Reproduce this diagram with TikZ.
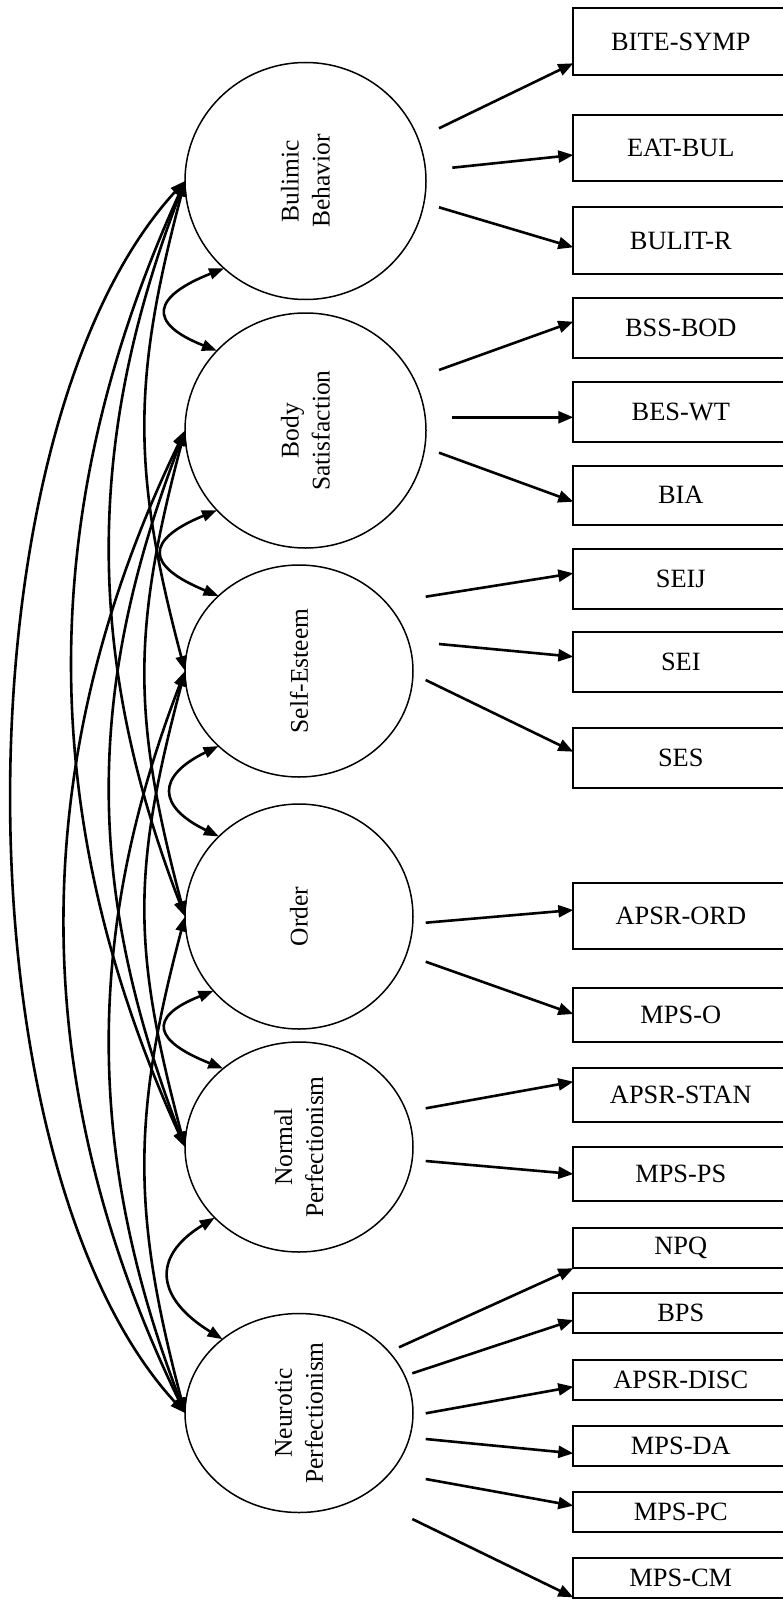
\documentclass[tikz,border=0pt]{standalone}
\usepackage{fontspec}
\setmainfont{Liberation Serif}
\usetikzlibrary{arrows.meta,shapes.geometric}
\begin{document}
\begin{tikzpicture}[x=1pt,y=-1pt,
  latent/.style={ellipse, draw, line width=1.5pt, inner sep=0pt, outer sep=0pt},
  lbl/.style={rotate=90, align=center, font=\fontsize{25.5}{31}\selectfont, inner sep=0pt},
  obs/.style={draw, line width=1.8pt, minimum width=215pt, anchor=west, inner sep=0pt, outer sep=0pt, font=\fontsize{26.4}{30}\selectfont},
  load/.style={line width=2.6pt, -{Triangle[length=15pt,width=12pt]}},
  cov/.style={line width=2.6pt, {Triangle[length=15pt,width=11pt]}-{Triangle[length=15pt,width=11pt]}},
]
\useasboundingbox (0,0) rectangle (783,1600);
\clip (0,0) rectangle (783,1600);

% latent factors
\node[latent, minimum width=241pt, minimum height=237pt] (bul) at (305.5,181) {};
\node[latent, minimum width=241pt, minimum height=235pt] (bod) at (305.5,430.5) {};
\node[latent, minimum width=228pt, minimum height=212pt] (se) at (299,671) {};
\node[latent, minimum width=228pt, minimum height=225pt] (ord) at (299,916.5) {};
\node[latent, minimum width=228pt, minimum height=210pt] (nor) at (299,1147) {};
\node[latent, minimum width=228pt, minimum height=199pt] (neu) at (299,1413) {};

\node[lbl] (tbul) at (bul) {Bulimic\\Behavior};
\node[lbl] (tbod) at (bod) {Body\\Satisfaction};
\node[lbl] (tse) at (se) {Self-Esteem};
\node[lbl] (tord) at (ord) {Order};
\node[lbl] (tnor) at (nor) {Normal\\Perfectionism};
\node[lbl] (tneu) at (neu) {Neurotic\\Perfectionism};

% indicators
\node[obs, minimum height=66.7pt] (b1) at (573.3,41.7) {BITE-SYMP};
\node[obs, minimum height=65.7pt] (b2) at (573.3,147.8) {EAT-BUL};
\node[obs, minimum height=66.7pt] (b3) at (573.3,240.7) {BULIT-R};
\node[obs, minimum height=59.4pt] (b4) at (573.3,328) {BSS-BOD};
\node[obs, minimum height=60pt] (b5) at (573.3,411.7) {BES-WT};
\node[obs, minimum height=59.3pt] (b6) at (573.3,495.3) {BIA};
\node[obs, minimum height=59.7pt] (b7) at (573.3,579.2) {SEIJ};
\node[obs, minimum height=60pt] (b8) at (573.3,662.3) {SEI};
\node[obs, minimum height=59.4pt] (b9) at (573.3,758) {SES};
\node[obs, minimum height=66.6pt] (b10) at (573.3,916) {APSR-ORD};
\node[obs, minimum height=54pt] (b11) at (573.3,1015.3) {MPS-O};
\node[obs, minimum height=53.4pt] (b12) at (573.3,1095) {APSR-STAN};
\node[obs, minimum height=53.4pt] (b13) at (573.3,1174) {MPS-PS};
\node[obs, minimum height=40pt] (b14) at (573.3,1247.7) {NPQ};
\node[obs, minimum height=40pt] (b15) at (573.3,1313.3) {BPS};
\node[obs, minimum height=40pt] (b16) at (573.3,1380) {APSR-DISC};
\node[obs, minimum height=39.7pt] (b17) at (573.3,1445.8) {MPS-DA};
\node[obs, minimum height=40pt] (b18) at (573.3,1512.3) {MPS-PC};
\node[obs, minimum height=40pt] (b19) at (573.3,1578.3) {MPS-CM};

% loading start points
\coordinate (s1) at (439,128.3);
\coordinate (s2) at (452.3,167.7);
\coordinate (s3) at (439,207.3);
\coordinate (s4) at (439,370);
\coordinate (s5) at (452.3,417.3);
\coordinate (s6) at (439,452.7);
\coordinate (s7) at (425.7,596.7);
\coordinate (s8) at (439,644);
\coordinate (s9) at (425.7,680);
\coordinate (s10) at (425.7,922.7);
\coordinate (s11) at (425.7,961.7);
\coordinate (s12) at (425.7,1108.3);
\coordinate (s13) at (425.7,1161);
\coordinate (s14) at (399,1347.3);
\coordinate (s15) at (412.3,1373.3);
\coordinate (s16) at (425.7,1413.3);
\coordinate (s17) at (425.7,1439);
\coordinate (s18) at (425.7,1479);
\coordinate (s19) at (412.3,1519);

\draw[load] (s1) -- ([yshift=-21.6pt]b1.west);
\draw[load] (s2) -- ([yshift=-7.2pt]b2.west);
\draw[load] (s3) -- ([yshift=-6.6pt]b3.west);
\draw[load] (s4) -- ([yshift=6.3pt]b4.west);
\draw[load] (s5) -- ([yshift=-5.6pt]b5.west);
\draw[load] (s6) -- ([yshift=-6.4pt]b6.west);
\draw[load] (s7) -- ([yshift=5.9pt]b7.west);
\draw[load] (s8) -- ([yshift=5.6pt]b8.west);
\draw[load] (s9) -- ([yshift=6.3pt]b9.west);
\draw[load] (s10) -- ([yshift=6pt]b10.west);
\draw[load] (s11) -- ([yshift=1.3pt]b11.west);
\draw[load] (s12) -- ([yshift=13.3pt]b12.west);
\draw[load] (s13) -- (b13.west);
\draw[load] (s14) -- ([yshift=-20.6pt]b14.west);
\draw[load] (s15) -- ([yshift=-6.7pt]b15.west);
\draw[load] (s16) -- ([yshift=-6.7pt]b16.west);
\draw[load] (s17) -- ([yshift=-7.5pt]b17.west);
\draw[load] (s18) -- ([yshift=6.6pt]b18.west);
\draw[load] (s19) -- ([yshift=-19pt]b19.west);

% adjacent covariances
\draw[cov] (bul.227) .. controls +(-71,28) and +(-71,-28) .. (bod.138);
\draw[cov] (bod.222) .. controls +(-73,30) and +(-73,-30) .. (se.137.5);
\draw[cov] (se.223) .. controls +(-62,30) and +(-62,-30) .. (ord.135);
\draw[cov] (ord.221.6) .. controls +(-68,27) and +(-68,-27) .. (nor.134.6);
\draw[cov] (nor.220) .. controls +(-65,40) and +(-65,-40) .. (neu.136);

% long covariances
\draw[cov] (bul.west) .. controls +(-53,200) and +(-53,-200) .. (se.west);
\draw[cov] (bul.west) .. controls +(-100,260) and +(-100,-260) .. (ord.west);
\draw[cov] (bul.west) .. controls +(-150,330) and +(-150,-330) .. (nor.west);
\draw[cov] (bul.west) .. controls +(-230,250) and +(-230,-250) .. (neu.west);
\draw[cov] (bod.west) .. controls +(-53,200) and +(-53,-200) .. (ord.west);
\draw[cov] (bod.west) .. controls +(-100,260) and +(-100,-260) .. (nor.west);
\draw[cov] (bod.west) .. controls +(-160,330) and +(-160,-330) .. (neu.west);
\draw[cov] (se.west) .. controls +(-53,200) and +(-53,-200) .. (nor.west);
\draw[cov] (se.west) .. controls +(-100,260) and +(-100,-260) .. (neu.west);
\draw[cov] (ord.west) .. controls +(-53,200) and +(-53,-200) .. (neu.west);
\end{tikzpicture}
\end{document}
